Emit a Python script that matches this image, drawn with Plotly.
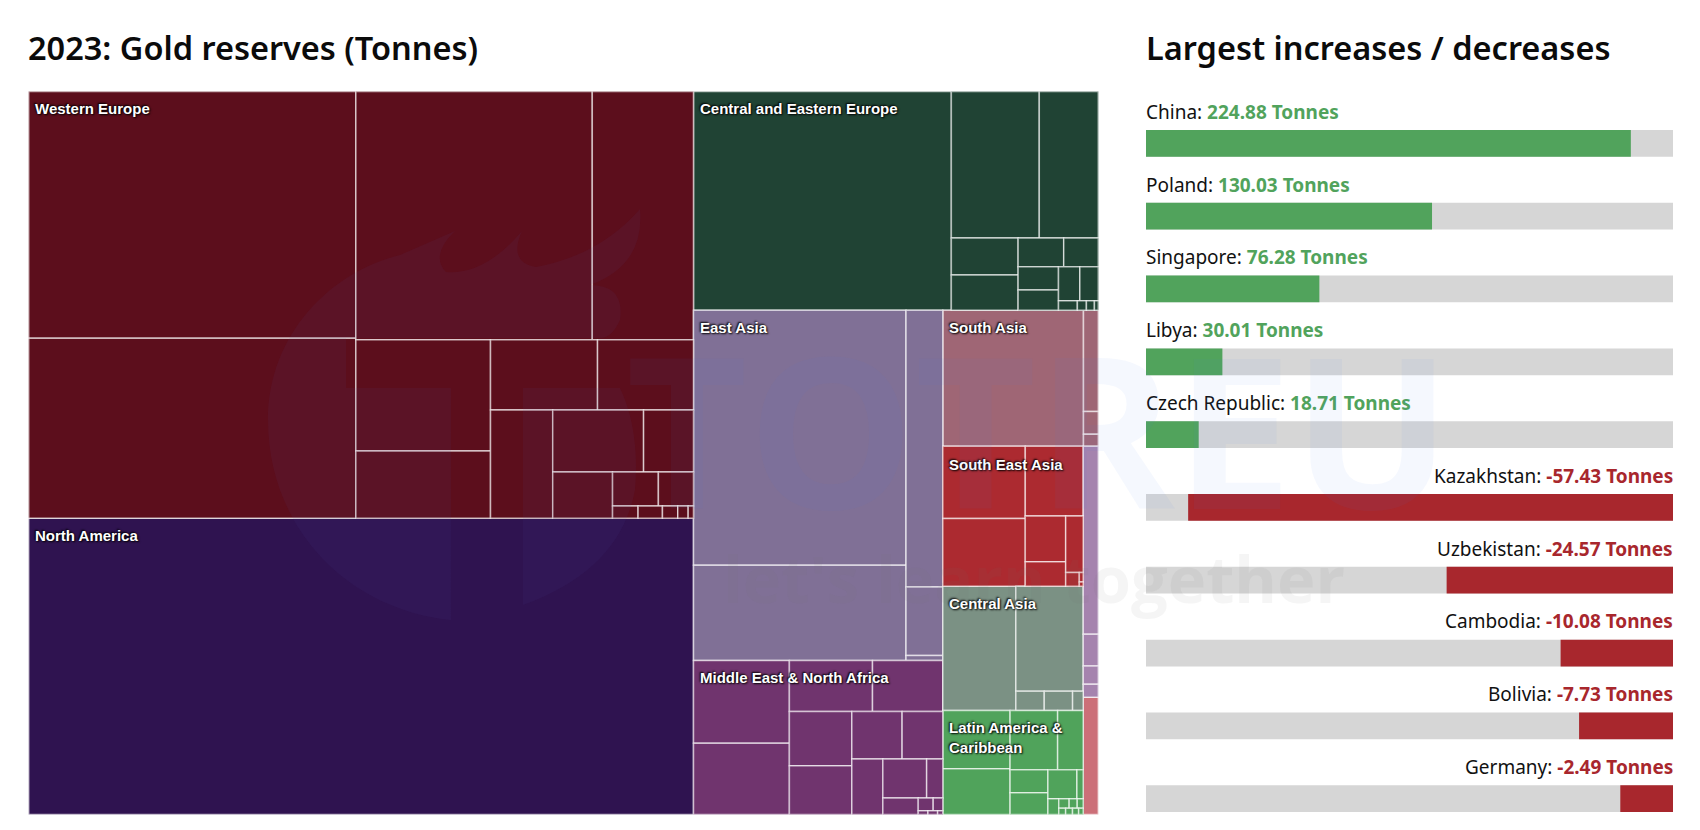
import plotly.graph_objects as go

W, H = 1700, 830

# ---------- data: treemap cell sizes (tonnes) ----------
western_europe = [3335, 2430, 2425, 1038, 618, 374, 310, 278, 278, 233, 128, 114, 64, 49, 13, 12.4, 7.8, 5.3, 2.7]
north_america = [8133]
central_eastern_europe = [2328, 532, 357, 102, 97, 54, 41, 39, 33.4, 30, 26, 7.3, 3.5, 3.1, 1.5]
east_asia = [2240, 835, 420, 104, 7.6]
middle_east = [328, 282, 175, 148, 140, 125.6, 99, 80, 71, 70.5, 26, 24, 7.8, 5, 1.5, 1.5, 0.8]
south_asia = [791, 62, 14, 7.3]
south_east_asia = [246, 231, 167, 76, 41, 41, 7.7, 1.5, 0.7]
central_asia = [375, 292, 22.7, 22.6, 8.5]
latin_america = [162, 127, 116, 62.5, 36, 35, 34, 7.6, 7, 4, 3.1, 2.3, 1.8, 1.8, 1.6, 1.2]
africa_a = [117, 19.7, 11.5, 8]
africa_b = [73]

region_names = ["Western Europe", "North America", "Central and Eastern Europe", "East Asia",
                "Middle East & North Africa", "South Asia", "South East Asia", "Central Asia",
                "Latin America & Caribbean", "Sub-Saharan Africa", "Oceania"]
region_values = [western_europe, north_america, central_eastern_europe, east_asia, middle_east,
                 south_asia, south_east_asia, central_asia, latin_america, africa_a, africa_b]
region_colors = ["#5C0E1C", "#2F1350", "#204334", "#807096", "#70346E", "#9F6675", "#AC2A30",
                 "#7B9184", "#50A35B", "#A583AE", "#CC6F78"]

# ---------- how the cells nest (levels alternate left-right / top-bottom), by cell index ----------
region_nesting = [
    [[0, 1], [[2, 3], [[4, 5], [[6, 7], [8, [[9, 10], [11, [[12, 13], [14, 15, 16, 17, 18]]]]]]]]],
    [0],
    [0, [[1, 2], [[3, 4], [[5, 6], [[7, 8], [[9, 10], [11, 12, 13, 14]]]]]]],
    [[0, 1], [2, 3, 4]],
    [[0, 1], [[2, 3], [[4, 5], [[6, 7], [8, [[9, 10], [11, [[12, 13], [14, 15, 16]]]]]]]]],
    [0, [1, 2, 3]],
    [[0, 1], [2, [[3, 4], [5, [6, [7, 8]]]]]],
    [0, [1, [2, 3, 4]]],
    [[0, 1], [[2, 3], [[4, 6], [[5, 7], [8, [[9, 10, 11], [12, 13, 14, 15]]]]]]],
    [[0, 1, 2, 3]],
    [0],
]
world_nesting = [[0, 1], [2, [[3, 4], [5, [[6, 7, 8], [9, 10]]]]]]

# ---------- data: increases / decreases ----------
gain_names = ["China", "Poland", "Singapore", "Libya", "Czech Republic"]
gain_values = [224.88, 130.03, 76.28, 30.01, 18.71]
loss_names = ["Kazakhstan", "Uzbekistan", "Cambodia", "Bolivia", "Germany"]
loss_values = [-57.43, -24.57, -10.08, -7.73, -2.49]

GREEN, RED, TRACK = "#51A35C", "#A8272D", "#D6D6D6"
SANS = "Noto Sans"
LABEL = "Liberation Sans"


def px(x, y):
    return dict(x=x / W, y=1 - y / H, xref="paper", yref="paper")


# ---------- treemap ----------
ids, parents, labels, values, colors, line_w = [], [], [], [], [], []


def add_node(i, p, label, v, c, lw):
    ids.append(i); parents.append(p); labels.append(label); values.append(v); colors.append(c); line_w.append(lw)


def add_region_items(spec, parent, name, vals, col):
    for k, item in enumerate(spec):
        if isinstance(item, int):
            add_node(f"{name} cell {item + 1}", parent, f"{name} cell {item + 1}", vals[item], col, 1.5)
        else:
            gid = f"{parent}/{k}"
            add_node(gid, parent, name, 0, col, 0)
            add_region_items(item, gid, name, vals, col)


def add_world_items(spec, parent):
    for k, item in enumerate(spec):
        if isinstance(item, int):
            name = region_names[item]
            add_node(name, parent, name, 0, region_colors[item], 0)
            add_region_items(region_nesting[item], name, name, region_values[item], region_colors[item])
        else:
            gid = f"{parent}/{k}"
            add_node(gid, parent, "World", 0, "rgba(0,0,0,0)", 0)
            add_world_items(item, gid)


add_node("World", "", "World", 0, "rgba(0,0,0,0)", 0)
add_world_items(world_nesting, "World")

fig = go.Figure()
fig.add_trace(go.Treemap(
    ids=ids, labels=labels, parents=parents, values=values, branchvalues="remainder", sort=False,
    domain=dict(x=[28.7 / W, 1098.3 / W], y=[1 - 814.5 / H, 1 - 91.5 / H]),
    marker=dict(colors=colors, line=dict(color="rgba(255,255,255,0.65)", width=line_w),
                pad=dict(t=0, l=0, r=0, b=0)),
    tiling=dict(packing="slice-dice", pad=0),
    pathbar=dict(visible=False), textinfo="none", hoverinfo="label+value", root=dict(color="rgba(0,0,0,0)"),
))


# ---------- bars ----------
def gain_frac(v):
    return 0.10 + 0.82 * (v - min(gain_values)) / (max(gain_values) - min(gain_values))


def loss_frac(v):
    mags = [abs(m) for m in loss_values]
    return 0.10 + 0.82 * (abs(v) - min(mags)) / (max(mags) - min(mags))


rows = list(range(len(gain_names) + len(loss_names)))
gain_rows = rows[:len(gain_names)]
loss_rows = rows[len(gain_names):]
gain_widths = [gain_frac(v) for v in gain_values]
loss_widths = [loss_frac(v) for v in loss_values]

common = dict(orientation="h", width=0.367, hoverinfo="skip", showlegend=False, xaxis="x", yaxis="y")
fig.add_trace(go.Bar(y=rows, x=[1] * len(rows), marker=dict(color=TRACK, line_width=0), **common))
fig.add_trace(go.Bar(y=gain_rows, x=gain_widths, marker=dict(color=GREEN, line_width=0), **common))
fig.add_trace(go.Bar(y=loss_rows, x=loss_widths, base=[1 - w for w in loss_widths],
                     marker=dict(color=RED, line_width=0), **common))

annotations = []
text_offset = 0.435
for r, n, v in zip(gain_rows, gain_names, gain_values):
    annotations.append(dict(x=0, y=r - text_offset, xref="x", yref="y", xanchor="left", yanchor="middle",
                            showarrow=False, xshift=-2, font=dict(family=SANS, size=19, color="#111"),
                            text=f'{n}: <b><span style="color:{GREEN}">{v:.2f} Tonnes</span></b>'))
for r, n, v in zip(loss_rows, loss_names, loss_values):
    annotations.append(dict(x=1, y=r - text_offset, xref="x", yref="y", xanchor="right", yanchor="middle",
                            showarrow=False, xshift=2, font=dict(family=SANS, size=19, color="#111"),
                            text=f'{n}: <b><span style="color:{RED}">{v:.2f} Tonnes</span></b>'))

# ---------- titles ----------
for text, x in (("2023: Gold reserves (Tonnes)", 26), ("Largest increases / decreases", 1144)):
    annotations.append(dict(**px(x, 47.5), text=text, showarrow=False, xanchor="left", yanchor="middle",
                            font=dict(family=SANS, size=32.5, color="#0b0b0b", weight=600)))

# ---------- region labels ----------
label_pos = [("Western Europe", 33, 108), ("North America", 33, 535),
             ("Central and Eastern Europe", 698, 108), ("East Asia", 698, 327),
             ("Middle East & North Africa", 698, 677), ("South Asia", 947, 327),
             ("South East Asia", 947, 464), ("Central Asia", 947, 603),
             ("Latin America &<br>Caribbean", 947, 737)]
for text, x, y in label_pos:
    annotations.append(dict(**px(x, y), text=text, showarrow=False, xanchor="left", yanchor="middle", align="left",
                            font=dict(family=LABEL, size=15, color="white", weight=700,
                                      shadow="1px 1px 2px #000, -1px -1px 2px #000")))

# ---------- faint watermark ----------
annotations.append(dict(**px(1038, 428), text="TOTREU", showarrow=False, xanchor="center", yanchor="middle",
                        font=dict(family="Open Sans", size=210, color="rgba(70,120,230,0.055)", weight=700)))
annotations.append(dict(**px(1034, 578), text="let's learn together", showarrow=False, xanchor="center",
                        yanchor="middle",
                        font=dict(family="Open Sans", size=65, color="rgba(120,120,120,0.07)", weight=700)))


def P(x, y):
    return f"{x / W:.5f},{1 - y / H:.5f}"


logo_path = (
    f"M {P(268, 420)} C {P(268, 335)} {P(330, 272)} {P(400, 255)} L {P(455, 231)} "
    f"Q {P(430, 255)} {P(446, 272)} Q {P(485, 275)} {P(522, 231)} Q {P(508, 262)} {P(536, 267)} "
    f"Q {P(600, 255)} {P(640, 209)} Q {P(645, 265)} {P(590, 285)} Q {P(625, 285)} {P(620, 320)} "
    f"Q {P(612, 338)} {P(600, 338)} L {P(346, 338)} L {P(346, 388)} L {P(451, 388)} L {P(451, 620)} "
    f"C {P(350, 610)} {P(268, 530)} {P(268, 420)} Z "
    f"M {P(523, 388)} L {P(620, 388)} Q {P(640, 430)} {P(635, 490)} Q {P(620, 570)} {P(523, 605)} Z"
)

fig.update_layout(
    width=W, height=H, margin=dict(l=0, r=0, t=0, b=0), paper_bgcolor="white", plot_bgcolor="rgba(0,0,0,0)",
    barmode="overlay", showlegend=False, annotations=annotations,
    xaxis=dict(domain=[1146 / W, 1673 / W], range=[0, 1], visible=False, fixedrange=True),
    yaxis=dict(domain=[1 - 812 / H, 1 - 92 / H], range=[9.1835, -0.7054], visible=False, fixedrange=True),
    shapes=[dict(type="path", xref="paper", yref="paper", layer="above", line_width=0, path=logo_path,
                 fillcolor="rgba(80,90,170,0.07)")],
)

fig.write_html("out.html", config=dict(displayModeBar=False),
               post_script="document.body.style.margin='0';document.body.style.overflow='hidden';")
